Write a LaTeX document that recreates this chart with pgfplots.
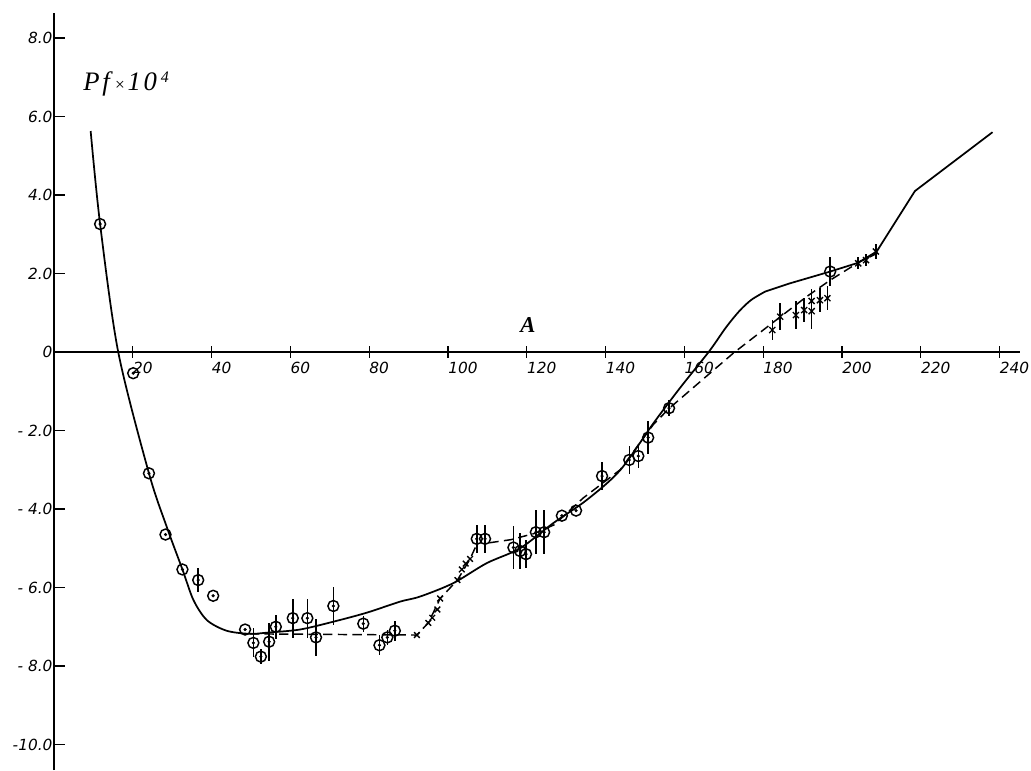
\documentclass[border=0pt]{standalone}
\usepackage{pgfplots}
\usepackage{pgfplotstable}
\pgfplotsset{compat=1.18}
\usepackage{fontspec}
\newfontfamily\lettering{DejaVu Sans}
\newfontfamily\serifit{Liberation Serif}

\pgfplotstableread{
A P e
11.7 3.26 0
20.1 -0.54 0
24.1 -3.09 0
28.3 -4.65 0
32.6 -5.54 0
36.6 -5.81 0.3
40.4 -6.21 0
48.5 -7.07 0
50.6 -7.41 0.37
52.5 -7.76 0.2
54.6 -7.38 0.48
56.3 -7.00 0.3
60.6 -6.78 0.5
64.3 -6.78 0.5
66.5 -7.27 0.47
70.9 -6.47 0.49
78.5 -6.92 0.2
82.6 -7.47 0.25
84.6 -7.27 0.2
86.5 -7.10 0.25
107.3 -4.76 0.35
109.4 -4.76 0.35
116.6 -4.98 0.55
118.3 -5.07 0.45
119.8 -5.15 0.35
122.3 -4.59 0.56
124.4 -4.59 0.56
128.9 -4.17 0
132.5 -4.04 0
139.1 -3.16 0.36
146.0 -2.75 0.35
148.3 -2.65 0.3
150.8 -2.18 0.42
156.1 -1.43 0.2
197.0 2.05 0.36
}\circles

\pgfplotstableread{
A P e
182.3 0.56 0.25
184.3 0.90 0.35
188.3 0.94 0.35
190.4 1.07 0.3
192.3 1.04 0.45
192.3 1.30 0.3
194.4 1.32 0.3
196.3 1.37 0.3
204.1 2.26 0.15
206.1 2.34 0.15
208.6 2.56 0.2
}\stars

\pgfplotstableread{
A P
92.1 -7.21
95.0 -6.90
96.0 -6.77
97.3 -6.56
98.0 -6.28
102.4 -5.81
103.5 -5.54
104.5 -5.39
105.6 -5.27
}\crosses

\pgfplotstableread{
A P
9.3 5.63
11.7 3.26
16.3 0.0
24.1 -3.09
28.6 -4.45
32.6 -5.54
35.4 -6.32
38.8 -6.83
43.8 -7.10
49.7 -7.18
54.0 -7.15
62.4 -7.07
70.9 -6.87
79.4 -6.64
87.8 -6.36
92.9 -6.23
101.3 -5.89
109.8 -5.38
118.3 -5.00
126.7 -4.36
135.2 -3.77
143.7 -3.01
152.1 -1.82
159.0 -0.90
166.3 0.02
170.5 0.62
174.0 1.05
177.0 1.33
180.5 1.54
}\solidA

\pgfplotstableread{
A P
180.5 1.54
186.8 1.75
197.0 2.05
204.0 2.27
208.8 2.56
218.5 4.10
238.2 5.60
}\solidB

\pgfplotstableread{
A P
49.7 -7.18
92.1 -7.21
95.0 -6.90
98.0 -6.28
102.4 -5.81
105.6 -5.27
107.3 -4.90
}\dashA

\pgfplotstableread{
A P
110.5 -4.86
116.0 -4.78
122.0 -4.62
127.0 -4.40
134.3 -3.72
143.7 -3.00
152.1 -1.85
156.2 -1.43
172.4 -0.03
180.0 0.56
191.0 1.41
197.0 1.83
204.0 2.27
208.6 2.50
}\dashB

\begin{document}
\begin{tikzpicture}
\begin{axis}[
  x=2.955pt, y=29.44pt,
  xmin=0, xmax=245.2, ymin=-10.65, ymax=8.64,
  axis lines=middle,
  axis line style={-, line width=1pt},
  xtick={20,40,...,240},
  xticklabels={20,40,60,80,100,120,140,160,180,200,220,240},
  ytick={-10,-8,...,8},
  yticklabels={-10.0,- 8.0,- 6.0,- 4.0,- 2.0,0,2.0,4.0,6.0,8.0},
  hide obscured x ticks=false, hide obscured y ticks=false,
  major tick length=8.5pt,
  xtick align=center, ytick align=inside,
  tick style={line width=0.9pt, black},
  xticklabel style={anchor=north west, inner sep=0pt, yshift=-3pt, font=\lettering\itshape\fontsize{11.5}{13}\selectfont},
  yticklabel style={anchor=east, inner sep=1pt, font=\lettering\itshape\fontsize{11.5}{13}\selectfont},
  clip=false,
]
\path (axis cs:-13.706,-10.65) rectangle (axis cs:247.97,8.968);

\addplot[black, line width=1.3pt, smooth, tension=0.5] table[x=A,y=P] {\solidA};
\addplot[black, line width=1.3pt] table[x=A,y=P] {\solidB};
\addplot[black, line width=1.1pt, dash pattern=on 7pt off 4pt] table[x=A,y=P] {\dashA};
\addplot[black, line width=1.1pt, dash pattern=on 7pt off 4pt] table[x=A,y=P] {\dashB};

\addplot[only marks, black, mark=o, mark size=4.1pt, mark options={line width=1.1pt},
  error bars/.cd, y dir=both, y explicit, error mark=none,
  error bar style={line width=1.1pt}]
  table[x=A,y=P,y error=e] {\circles};
\addplot[only marks, black, mark=*, mark size=1pt] table[x=A,y=P] {\circles};

\addplot[only marks, black, mark=x, mark size=3.2pt, mark options={line width=1pt},
  error bars/.cd, y dir=both, y explicit, error mark=none,
  error bar style={line width=1.1pt}]
  table[x=A,y=P,y error=e] {\stars};

\addplot[only marks, black, mark=x, mark size=3pt, mark options={line width=1pt}] table[x=A,y=P] {\crosses};

\node[anchor=base west, inner sep=0pt] at (axis cs:7.4,6.67)
  {\serifit\itshape\fontsize{20}{22}\selectfont P\kern2pt f\kern4pt{\fontsize{13}{14}\selectfont\upshape ×}\kern2pt 1\kern2pt 0\kern3pt\raisebox{6pt}{\fontsize{12}{12}\selectfont 4}};
\node[inner sep=0pt] at (axis cs:120.3,0.675) {\serifit\itshape\bfseries\fontsize{17}{18}\selectfont A};
\end{axis}
\end{tikzpicture}
\end{document}
